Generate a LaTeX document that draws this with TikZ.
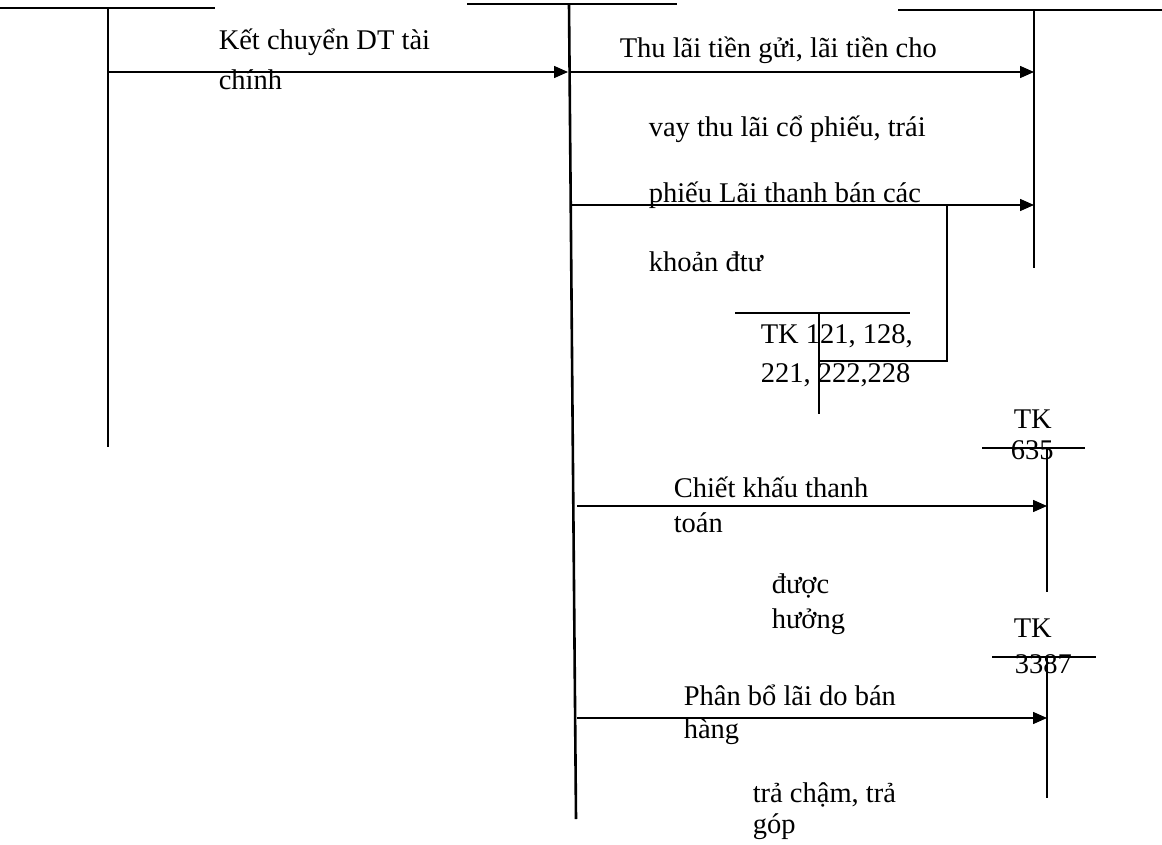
\documentclass[tikz,border=0pt]{standalone}
\usepackage{fontspec}
\setmainfont{Liberation Serif}
\usetikzlibrary{arrows.meta}

\begin{document}
\begin{tikzpicture}[x=1pt, y=-1pt, line width=1.5pt,
    lbl/.style={anchor=base west, inner sep=0pt, font=\fontsize{28.5}{34}\selectfont},
    arr/.style={-{Triangle[length=14pt,width=12pt]}}]
  \useasboundingbox (0,0) rectangle (1162,845);

  % T accounts
  \coordinate (lA) at (0,8);     \coordinate (lB) at (215,8);
  \coordinate (lT) at (108,8);   \coordinate (lE) at (108,447);
  \coordinate (mA) at (467,4);   \coordinate (mB) at (677,4);
  \coordinate (mT) at (569,4);   \coordinate (mE) at (576,819);
  \coordinate (rA) at (898,10);  \coordinate (rB) at (1162,10);
  \coordinate (rT) at (1034,10); \coordinate (rE) at (1034,268);
  \coordinate (kA) at (735,313); \coordinate (kB) at (910,313);
  \coordinate (kT) at (819,313); \coordinate (kE) at (819,414);
  \coordinate (cA) at (982,448); \coordinate (cB) at (1085,448);
  \coordinate (cT) at (1047,448); \coordinate (cE) at (1047,592);
  \coordinate (pA) at (992,657); \coordinate (pB) at (1096,657);
  \coordinate (pT) at (1047,657); \coordinate (pE) at (1047,798);

  \draw (lA) -- (lB); \draw (lT) -- (lE);
  \draw (mA) -- (mB); \draw[line width=2.6pt] (mT) -- (mE);
  \draw (rA) -- (rB); \draw (rT) -- (rE);
  \draw (kA) -- (kB); \draw (kT) -- (kE);
  \draw (cA) -- (cB); \draw (cT) -- (cE);
  \draw (pA) -- (pB); \draw (pT) -- (pE);

  % Arrows
  \coordinate (a1) at (108,72);  \coordinate (a1e) at (568,72);
  \coordinate (a2) at (569,72);  \coordinate (a2e) at (1034,72);
  \coordinate (a3) at (570,205); \coordinate (a3e) at (1034,205);
  \coordinate (a4) at (577,506); \coordinate (a4e) at (1047,506);
  \coordinate (a5) at (577,718); \coordinate (a5e) at (1047,718);
  \coordinate (k1) at (819,361); \coordinate (k2) at (947,205);

  \draw[arr] (a1) -- (a1e);
  \draw[arr] (a2) -- (a2e);
  \draw[arr] (a3) -- (a3e);
  \draw[arr] (a4) -- (a4e);
  \draw[arr] (a5) -- (a5e);
  \draw (k1) -| (k2);

  % Labels
  \node[lbl] (t1) at (218,50) {Kết chuyển DT tài};
  \node[lbl] (t1b) at (218,90) {chính};
  \node[lbl] (t2) at (619,58) {Thu lãi tiền gửi, lãi tiền cho};
  \node[lbl] (t2b) at (648,137) {vay thu lãi cổ phiếu, trái};
  \node[lbl] (t2c) at (648,203) {phiếu Lãi thanh bán các};
  \node[lbl] (t2d) at (648,272) {khoản đtư};
  \node[lbl] (k121) at (760,343) {TK 121, 128,};
  \node[lbl] (k121b) at (760,382) {221, 222,228};
  \node[lbl] (c635) at (1013,428) {TK};
  \node[lbl] (c635b) at (1010,459) {635};
  \node[lbl] (t4) at (673,497) {Chiết khấu thanh};
  \node[lbl] (t4b) at (673,532) {toán};
  \node[lbl] (t4c) at (771,593) {được};
  \node[lbl] (t4d) at (771,628) {hưởng};
  \node[lbl] (p3387) at (1013,637) {TK};
  \node[lbl] (p3387b) at (1014,673) {3387};
  \node[lbl] (t5) at (683,705) {Phân bổ lãi do bán};
  \node[lbl] (t5b) at (683,738) {hàng};
  \node[lbl] (t5c) at (752,802) {trả chậm, trả};
  \node[lbl] (t5d) at (752,833) {góp};
\end{tikzpicture}
\end{document}
